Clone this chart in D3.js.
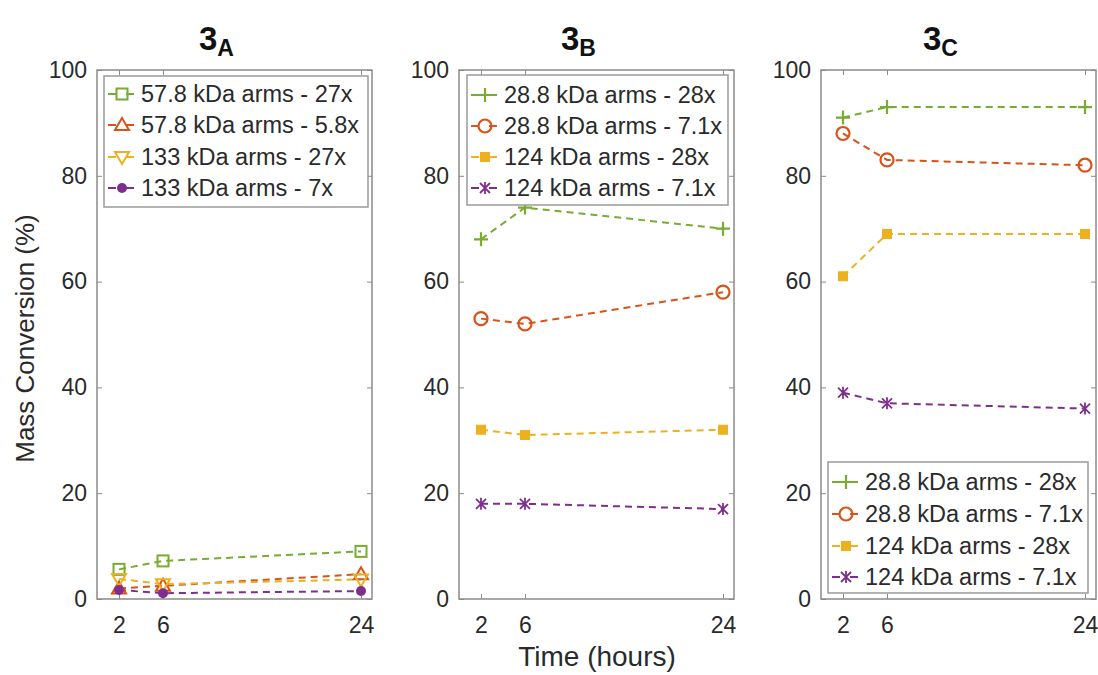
<!DOCTYPE html>
<html><head><meta charset="utf-8">
<script src="https://cdn.jsdelivr.net/npm/d3@7"></script>
<style>body{margin:0;background:#fff;} svg{display:block;font-family:"Liberation Sans",Arial,sans-serif;}</style>
</head><body>
<svg id="c" width="1098" height="675"></svg>
<script>
const hours = [2, 6, 24];
const xTicks = [2, 6, 24];
const yTicks = [0, 20, 40, 60, 80, 100];
const panelTitles = ["A", "B", "C"];

const seriesA = ["57.8 kDa arms - 27x", "57.8 kDa arms - 5.8x", "133 kDa arms - 27x", "133 kDa arms - 7x"];
const valuesA = [[5.6, 7.2, 9.0], [2.0, 2.5, 4.7], [3.8, 2.8, 3.7], [1.7, 1.1, 1.5]];
const markersA = ["square", "triUp", "triDown", "dot"];

const seriesB = ["28.8 kDa arms - 28x", "28.8 kDa arms - 7.1x", "124 kDa arms - 28x", "124 kDa arms - 7.1x"];
const valuesB = [[68, 74, 70], [53, 52, 58], [32, 31, 32], [18, 18, 17]];
const markersB = ["plus", "circle", "fsquare", "cross"];

const seriesC = ["28.8 kDa arms - 28x", "28.8 kDa arms - 7.1x", "124 kDa arms - 28x", "124 kDa arms - 7.1x"];
const valuesC = [[91, 93, 93], [88, 83, 82], [61, 69, 69], [39, 37, 36]];
const markersC = ["plus", "circle", "fsquare", "cross"];

const colors = ["#77AC30", "#D95319", "#EDB120", "#7E2F8E"];

const panels = [
  {title: panelTitles[0], names: seriesA, vals: valuesA, marks: markersA, left: 97, legend: {x: 104, y: 76, w: 264, h: 131, rows: [94, 125, 157, 188]}},
  {title: panelTitles[1], names: seriesB, vals: valuesB, marks: markersB, left: 459, legend: {x: 467, y: 75, w: 261, h: 130, rows: [95, 126, 157, 188]}},
  {title: panelTitles[2], names: seriesC, vals: valuesC, marks: markersC, left: 821, legend: {x: 828, y: 462, w: 260, h: 131, rows: [482, 514, 546, 577]}}
];

const W = 275, plotTop = 70, plotBottom = 599;
const svg = d3.select("#c");
const y = d3.scaleLinear().domain([0, 100]).range([plotBottom, plotTop]);
const axisCol = "#8a8a8a", textCol = "#2a2a2a";

function drawMarker(g, type, cx, cy, col) {
  const s = 5.5;
  if (type === "square") g.append("rect").attr("x", cx - s).attr("y", cy - s).attr("width", 2*s).attr("height", 2*s).attr("fill", "none").attr("stroke", col).attr("stroke-width", 2);
  else if (type === "fsquare") g.append("rect").attr("x", cx - 4.5).attr("y", cy - 4.5).attr("width", 9).attr("height", 9).attr("fill", col).attr("stroke", col).attr("stroke-width", 1);
  else if (type === "triUp") g.append("path").attr("d", `M${cx},${cy-7}L${cx+7},${cy+5}L${cx-7},${cy+5}Z`).attr("fill", "none").attr("stroke", col).attr("stroke-width", 2);
  else if (type === "triDown") g.append("path").attr("d", `M${cx},${cy+7}L${cx+7},${cy-5}L${cx-7},${cy-5}Z`).attr("fill", "none").attr("stroke", col).attr("stroke-width", 2);
  else if (type === "dot") g.append("circle").attr("cx", cx).attr("cy", cy).attr("r", 5).attr("fill", col);
  else if (type === "circle") g.append("circle").attr("cx", cx).attr("cy", cy).attr("r", 6.5).attr("fill", "none").attr("stroke", col).attr("stroke-width", 2.2);
  else if (type === "plus") g.append("path").attr("d", `M${cx-7},${cy}H${cx+7}M${cx},${cy-7}V${cy+7}`).attr("stroke", col).attr("stroke-width", 2.2);
  else if (type === "cross") g.append("path").attr("d", `M${cx-5},${cy-5}L${cx+5},${cy+5}M${cx-5},${cy+5}L${cx+5},${cy-5}M${cx},${cy-6}V${cy+6}`).attr("stroke", col).attr("stroke-width", 1.8);
}

panels.forEach(p => {
  const x = d3.scaleLinear().domain([0, 25]).range([p.left, p.left + W]);
  const g = svg.append("g");
  g.append("rect").attr("x", p.left).attr("y", plotTop).attr("width", W).attr("height", plotBottom - plotTop).attr("fill", "#fff").attr("stroke", axisCol).attr("stroke-width", 1.5);
  const ya = g.append("g").attr("transform", `translate(${p.left},0)`)
    .call(d3.axisLeft(y).tickValues(yTicks).tickSizeInner(-5).tickSizeOuter(0).tickPadding(10));
  const yr = g.append("g").attr("transform", `translate(${p.left + W},0)`)
    .call(d3.axisRight(y).tickValues(yTicks).tickSizeInner(-5).tickSizeOuter(0).tickFormat(""));
  const xa = g.append("g").attr("transform", `translate(0,${plotBottom})`)
    .call(d3.axisBottom(x).tickValues(xTicks).tickSizeInner(-5).tickSizeOuter(0).tickPadding(18));
  const xt = g.append("g").attr("transform", `translate(0,${plotTop})`)
    .call(d3.axisTop(x).tickValues(xTicks).tickSizeInner(-5).tickSizeOuter(0).tickFormat(""));
  [ya, yr, xa, xt].forEach(a => {
    a.select(".domain").remove();
    a.selectAll(".tick line").attr("stroke", axisCol);
    a.selectAll("text").attr("font-size", 23).attr("fill", textCol).attr("font-family", "Liberation Sans, Arial, sans-serif");
  });
  const line = d3.line().x((d, i) => x(hours[i])).y(d => y(d));
  p.vals.forEach((v, k) => {
    g.append("path").datum(v).attr("d", line).attr("fill", "none").attr("stroke", colors[k]).attr("stroke-width", 2).attr("stroke-dasharray", "7,5");
  });
  p.vals.forEach((v, k) => {
    v.forEach((d, i) => drawMarker(g, p.marks[k], x(hours[i]), y(d), colors[k]));
  });
  const L = p.legend;
  const lg = g.append("g");
  lg.append("rect").attr("x", L.x).attr("y", L.y).attr("width", L.w).attr("height", L.h).attr("fill", "#fff").attr("stroke", "#9a9a9a").attr("stroke-width", 1.5);
  p.names.forEach((n, k) => {
    const ry = L.rows[k];
    lg.append("line").attr("x1", L.x + 4).attr("x2", L.x + 12).attr("y1", ry).attr("y2", ry).attr("stroke", colors[k]).attr("stroke-width", 2);
    lg.append("line").attr("x1", L.x + 22).attr("x2", L.x + 30).attr("y1", ry).attr("y2", ry).attr("stroke", colors[k]).attr("stroke-width", 2);
    drawMarker(lg, p.marks[k], L.x + 18, ry, colors[k]);
    lg.append("text").attr("x", L.x + 37).attr("y", ry).attr("dy", "0.36em").attr("font-size", 23.5).attr("fill", textCol).text(n);
  });
  const t = svg.append("text").attr("x", p.left + W / 2 - 18).attr("y", 50).attr("text-anchor", "middle").attr("font-weight", "bold").attr("font-size", 33).attr("fill", "#111");
  t.append("tspan").text("3");
  t.append("tspan").attr("font-size", 23).attr("dy", 6).text(p.title);
});

svg.append("text").attr("transform", `translate(34,${(plotTop + plotBottom) / 2 + 4}) rotate(-90)`).attr("text-anchor", "middle").attr("font-size", 26).attr("fill", textCol).text("Mass Conversion (%)");
svg.append("text").attr("x", 597).attr("y", 666).attr("text-anchor", "middle").attr("font-size", 28).attr("fill", textCol).text("Time (hours)");
</script>
</body></html>
